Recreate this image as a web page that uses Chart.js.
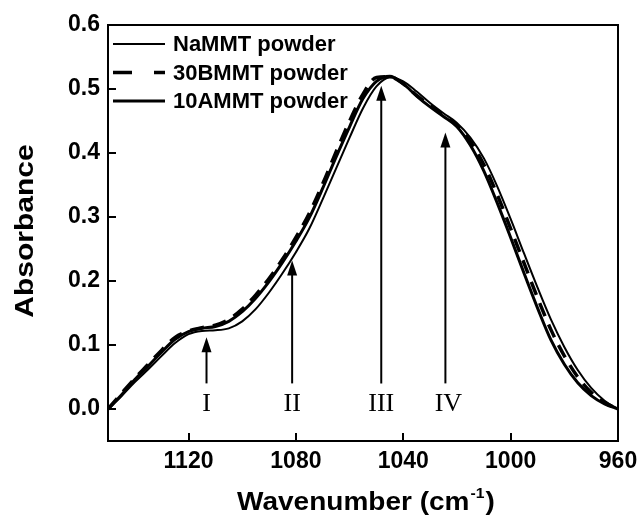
<!DOCTYPE html>
<html>
<head>
<meta charset="utf-8">
<script src="https://cdn.jsdelivr.net/npm/chart.js@4.4.0/dist/chart.umd.min.js"></script>
<style>
  html, body { margin: 0; padding: 0; background: #fff; }
  canvas { display: block; }
</style>
</head>
<body>
<canvas id="chart" width="639" height="521"></canvas>
<script>
/* FTIR absorbance spectra, three powders, Si-O stretching region */

const wavenumbers = [1150, 1145, 1140, 1135, 1130, 1125, 1120, 1115, 1110, 1105,
  1100, 1095, 1090, 1085, 1080, 1075, 1070, 1065, 1060, 1055,
  1050, 1045, 1040, 1035, 1030, 1025, 1020, 1015, 1010, 1005,
  1000, 995, 990, 985, 980, 975, 970, 965, 960];

const naMMT = [0, .020, .042, .062, .083, .103, .117, .122, .123, .126,
  .137, .156, .182, .212, .245, .282, .328, .376, .424, .470,
  .504, .518, .512, .496, .478, .462, .447, .424, .392, .348,
  .297, .243, .190, .140, .097, .061, .033, .013, 0];

const b30MMT = [0, .024, .048, .070, .092, .112, .122, .127, .131, .140,
  .156, .178, .204, .234, .268, .306, .352, .402, .450, .492,
  .518, .519, .508, .490, .474, .459, .443, .418, .382, .335,
  .282, .228, .174, .124, .083, .050, .026, .010, 0];

const a10MMT = [0, .022, .046, .067, .089, .109, .121, .126, .129, .137,
  .152, .173, .199, .229, .262, .299, .345, .394, .441, .485,
  .512, .520, .508, .489, .472, .457, .441, .412, .372, .322,
  .268, .212, .158, .108, .070, .041, .021, .008, 0];

const xTicks = [1120, 1080, 1040, 1000, 960];
const yTicks = [0, 0.1, 0.2, 0.3, 0.4, 0.5, 0.6];

// marked bands: arrow position, arrow tip height, label
const bandNames = ["I", "II", "III", "IV"];
const bandPos = [1113.3, 1081.4, 1048.2, 1024.3];
const bandTip = [0.112, 0.232, 0.505, 0.432];
const arrowBase = 0.04;
const bandLabelLevel = 0.008;

const BOLD = "'Liberation Sans', Arial, sans-serif";

function pts(ys) { return wavenumbers.map((w, i) => ({ x: w, y: ys[i] })); }

const framePlugin = {
  id: "frame",
  afterDraw(chart) {
    const { ctx, chartArea: a } = chart;
    ctx.save();
    ctx.strokeStyle = "#000";
    ctx.lineWidth = 2;
    ctx.strokeRect(a.left, a.top, a.right - a.left, a.bottom - a.top);
    ctx.restore();
  },
};

const bandPlugin = {
  id: "bands",
  afterDatasetsDraw(chart) {
    const { ctx, scales: { x, y } } = chart;
    ctx.save();
    ctx.strokeStyle = "#000";
    ctx.fillStyle = "#000";
    ctx.lineWidth = 2;
    bandPos.forEach((w, i) => {
      const px = x.getPixelForValue(w);
      const top = y.getPixelForValue(bandTip[i]);
      const bot = y.getPixelForValue(arrowBase);
      ctx.beginPath();
      ctx.moveTo(px, bot);
      ctx.lineTo(px, top + 12);
      ctx.stroke();
      ctx.beginPath();
      ctx.moveTo(px, top);
      ctx.lineTo(px - 5, top + 15);
      ctx.lineTo(px + 5, top + 15);
      ctx.closePath();
      ctx.fill();
      ctx.font = "26px 'Liberation Serif', 'Times New Roman', serif";
      ctx.textAlign = "center";
      ctx.textBaseline = "middle";
      ctx.fillText(bandNames[i], px + (i === 3 ? 3 : 0), y.getPixelForValue(bandLabelLevel));
    });
    ctx.restore();
  },
};

const legendPlugin = {
  id: "insideLegend",
  afterDraw(chart) {
    const { ctx, chartArea: a } = chart;
    ctx.save();
    chart.data.datasets.forEach((ds, i) => {
      const yy = a.top + 19 + i * 28.5;
      ctx.strokeStyle = "#000";
      ctx.lineWidth = ds.borderWidth;
      ctx.setLineDash(ds.borderDash ? [19, 22] : []);
      ctx.beginPath();
      ctx.moveTo(a.left + 5, yy);
      ctx.lineTo(a.left + 57, yy);
      ctx.stroke();
      ctx.setLineDash([]);
      ctx.fillStyle = "#000";
      ctx.font = "bold 22px " + BOLD;
      ctx.textAlign = "left";
      ctx.textBaseline = "middle";
      ctx.fillText(ds.label, a.left + 65, yy + 1);
    });
    ctx.restore();
  },
};

// axis titles are wide in the original, so stretch them a little
const titlePlugin = {
  id: "axisTitles",
  afterDraw(chart) {
    const { ctx } = chart;
    ctx.save();
    ctx.fillStyle = "#000";
    ctx.font = "bold 25px " + BOLD;
    ctx.textAlign = "center";
    ctx.textBaseline = "middle";
    ctx.translate(26, 231);
    ctx.rotate(-Math.PI / 2);
    ctx.scale(1.2, 1);
    ctx.fillText("Absorbance", 0, 0);
    ctx.restore();

    ctx.save();
    ctx.fillStyle = "#000";
    ctx.textAlign = "left";
    ctx.textBaseline = "alphabetic";
    const sx = 1.12;
    ctx.font = "bold 25px " + BOLD;
    const w1 = ctx.measureText("Wavenumber (cm").width;
    const w3 = ctx.measureText(")").width;
    ctx.font = "bold 14px " + BOLD;
    const w2 = ctx.measureText("-1").width;
    const total = (w1 + w2 + w3 + 2) * sx;
    ctx.translate(366 - total / 2, 510);
    ctx.scale(sx, 1);
    ctx.font = "bold 25px " + BOLD;
    ctx.fillText("Wavenumber (cm", 0, 0);
    ctx.font = "bold 14px " + BOLD;
    ctx.fillText("-1", w1 + 1, -12);
    ctx.font = "bold 25px " + BOLD;
    ctx.fillText(")", w1 + w2 + 2, 0);
    ctx.restore();
  },
};

const tickFont = { family: BOLD, size: 23, weight: "bold" };

new Chart(document.getElementById("chart"), {
  type: "line",
  data: {
    datasets: [
      { label: "NaMMT powder", data: pts(naMMT), borderWidth: 2 },
      { label: "30BMMT powder", data: pts(b30MMT), borderWidth: 3.5, borderDash: [14, 9] },
      { label: "10AMMT powder", data: pts(a10MMT), borderWidth: 3 },
    ],
  },
  options: {
    responsive: false,
    animation: false,
    layout: { padding: { top: 25, right: 21, left: 0, bottom: 0 } },
    elements: {
      point: { radius: 0 },
      line: { borderColor: "#000", fill: false, cubicInterpolationMode: "monotone" },
    },
    plugins: { legend: { display: false }, tooltip: { enabled: false } },
    scales: {
      x: {
        type: "linear", reverse: true, min: 960, max: 1150,
        afterBuildTicks: (s) => { s.ticks = xTicks.map((v) => ({ value: v })); },
        afterFit: (s) => { s.height = 80; s.paddingLeft = 0; s.paddingRight = 0; },
        border: { display: false },
        grid: { drawOnChartArea: false, tickLength: -8, color: "#000", lineWidth: 2 },
        ticks: { color: "#000", font: tickFont, padding: 15, maxRotation: 0, callback: (v) => String(v) },
      },
      y: {
        min: -0.05, max: 0.6,
        afterBuildTicks: (s) => { s.ticks = yTicks.map((v) => ({ value: v })); },
        afterFit: (s) => { s.width = 108; s.paddingTop = 0; s.paddingBottom = 0; },
        border: { display: false },
        grid: { drawOnChartArea: false, tickLength: -8, color: "#000", lineWidth: 2 },
        ticks: { color: "#000", font: tickFont, padding: 16, callback: (v) => v.toFixed(1) },
      },
    },
  },
  plugins: [framePlugin, bandPlugin, legendPlugin, titlePlugin],
});
</script>
</body>
</html>
